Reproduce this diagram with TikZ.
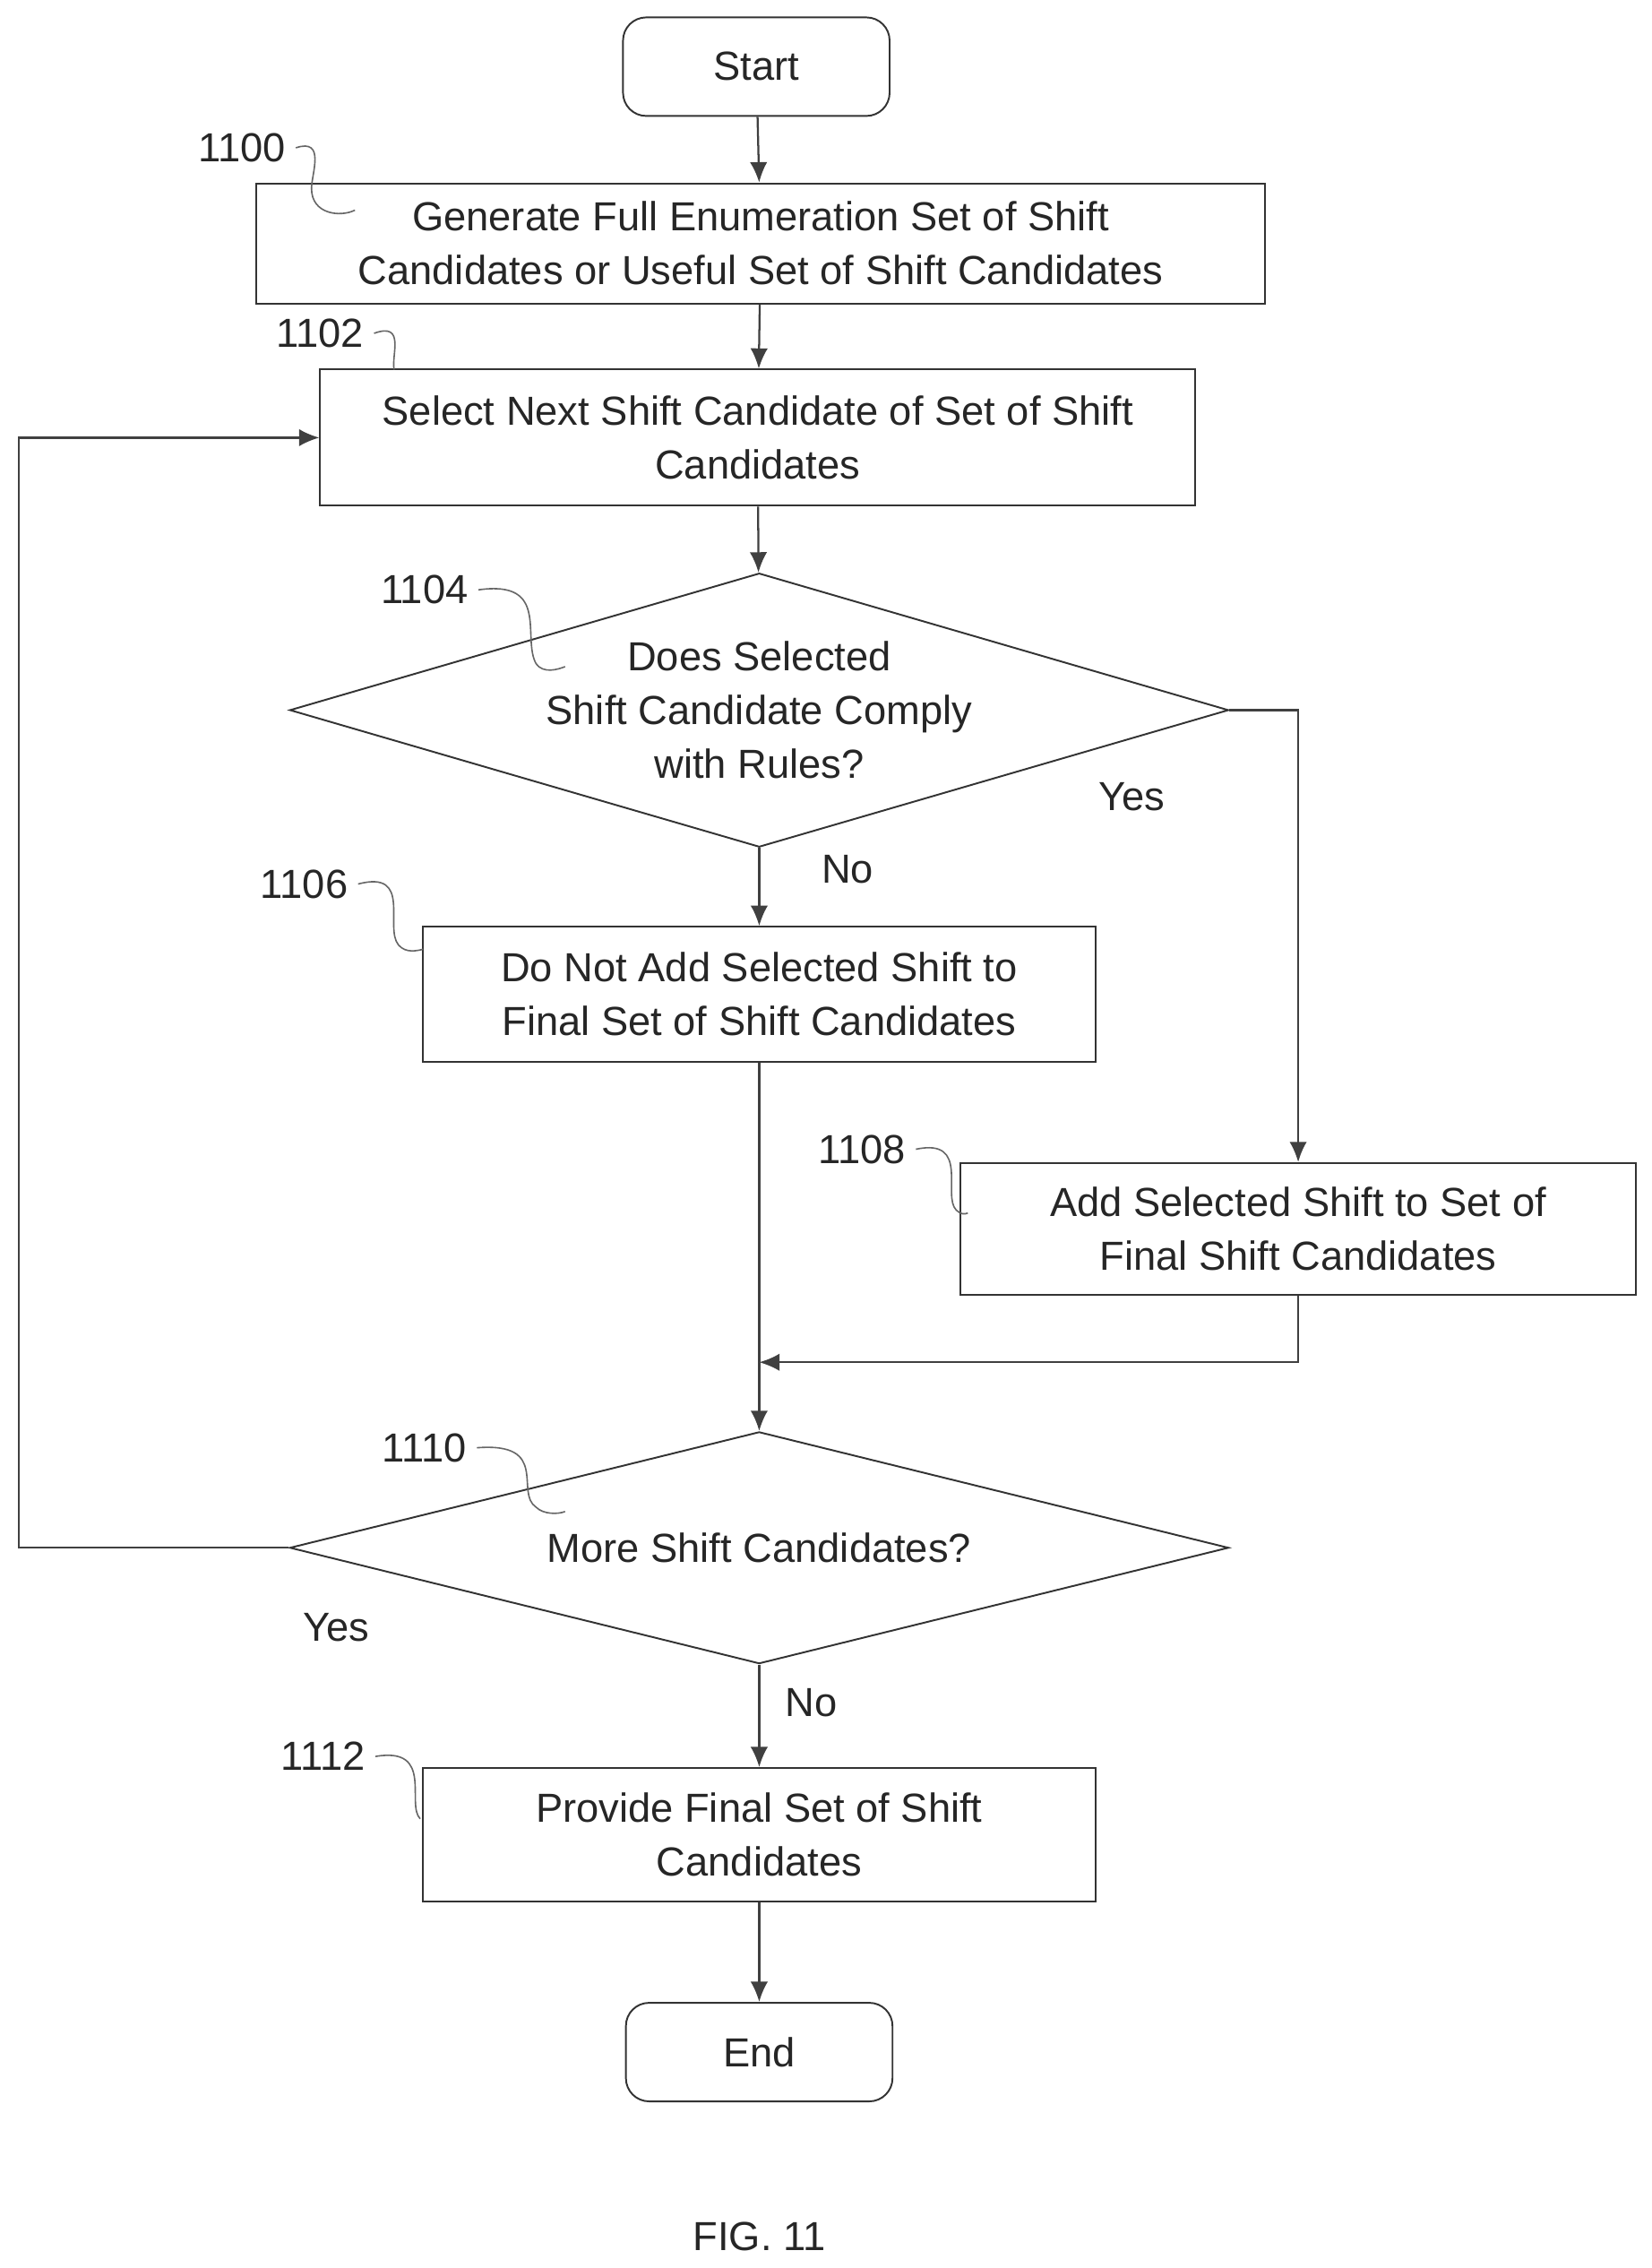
\documentclass[tikz,border=0pt]{standalone}
\usepackage{fontspec}
\setmainfont{Liberation Sans}
\usetikzlibrary{shapes.geometric,arrows.meta}
\begin{document}
\begin{tikzpicture}[x=0.5pt,y=-0.5pt,
  every node/.style={font=\fontsize{14}{18.5}\selectfont, text=black!85},
  box/.style={draw=black!80, line width=0.6pt, align=center, inner sep=0pt},
  term/.style={box, rounded corners=8pt, minimum width=92pt, minimum height=34pt},
  dia/.style={draw=black!80, line width=0.6pt, diamond, inner sep=0pt},
  arr/.style={draw=black!75, line width=0.7pt, -{Latex[length=7pt,width=6pt]}},
  ln/.style={draw=black!75, line width=0.7pt},
  sq/.style={draw=black!60, line width=0.5pt},
  lab/.style={anchor=center}]
\useasboundingbox (0,0) rectangle (1140,1565);
\node[term] (start) at (522,46) {Start};
\node[box, minimum width=348pt, minimum height=41.5pt] (b1100) at (525,168) {Generate Full Enumeration Set of Shift\\Candidates or Useful Set of Shift Candidates};
\node[box, minimum width=302pt, minimum height=47pt] (b1102) at (523,302) {Select Next Shift Candidate of Set of Shift\\Candidates};
\node[dia, minimum width=324pt, minimum height=94.5pt] (d1104) at (524,490) {};
\node (t1104) at (524,490) [align=center] {Does Selected\\Shift Candidate Comply\\with Rules?};
\node[box, minimum width=232pt, minimum height=46.5pt] (b1106) at (524,686) {Do Not Add Selected Shift to\\Final Set of Shift Candidates};
\node[box, minimum width=233pt, minimum height=45.5pt] (b1108) at (896,848) {Add Selected Shift to Set of\\Final Shift Candidates};
\node[dia, minimum width=324pt, minimum height=80pt] (d1110) at (524,1068) {};
\node (t1110) at (524,1068) {More Shift Candidates?};
\node[box, minimum width=232pt, minimum height=46pt] (b1112) at (524,1266) {Provide Final Set of Shift\\Candidates};
\node[term] (end) at (524,1416) {End};
\node (fig) at (524,1543) {FIG. 11};
\coordinate (merge) at (524,940);
\coordinate (c1) at (896,940);
\coordinate (l1) at (13,1068);
\coordinate (l2) at (13,302);
\coordinate (y1) at (896,490);
\draw[arr] (start) -- (b1100);
\draw[arr] (b1100) -- (b1102);
\draw[arr] (b1102) -- (d1104);
\draw[arr] (d1104) -- (b1106);
\draw[arr] (d1104.east) -- (y1) -- (b1108.north);
\draw[arr] (b1106) -- (d1110.north);
\draw[arr] (b1108.south) -- (c1) -- (merge);
\draw[arr] (d1110) -- (b1112);
\draw[arr] (b1112) -- (end);
\draw[arr] (d1110.west) -- (l1) -- (l2) -- (b1102.west);
\node (yes1) at (781,550) {Yes};
\node (no1) at (585,600) {No};
\node (yes2) at (232,1123) {Yes};
\node (no2) at (560,1175) {No};
\node (n1100) at (167,102) {1100};
\node (n1102) at (221,230) {1102};
\node (n1104) at (293,407) {1104};
\node (n1106) at (210,610) {1106};
\node (n1108) at (595,793) {1108};
\node (n1110) at (293,999) {1110};
\node (n1112) at (223,1212) {1112};
\draw[sq] (n1100.east) .. controls (225,95) and (215,120) .. (215,130) .. controls (215,148) and (235,150) .. (245,145);
\draw[sq] (n1102.east) .. controls (280,222) and (270,245) .. (272,255);
\draw[sq] (n1104.east) .. controls (380,400) and (360,440) .. (370,458) .. controls (375,465) and (385,462) .. (390,460);
\draw[sq] (n1106.east) .. controls (285,600) and (265,640) .. (275,652) .. controls (280,658) and (288,656) .. (292,655);
\draw[sq] (n1108.east) .. controls (670,785) and (650,825) .. (660,835) .. controls (663,838) and (666,838) .. (668,837);
\draw[sq] (n1110.east) .. controls (380,995) and (355,1030) .. (370,1040) .. controls (375,1045) and (385,1045) .. (390,1043);
\draw[sq] (n1112.east) .. controls (300,1205) and (280,1245) .. (290,1255);
\end{tikzpicture}
\end{document}
